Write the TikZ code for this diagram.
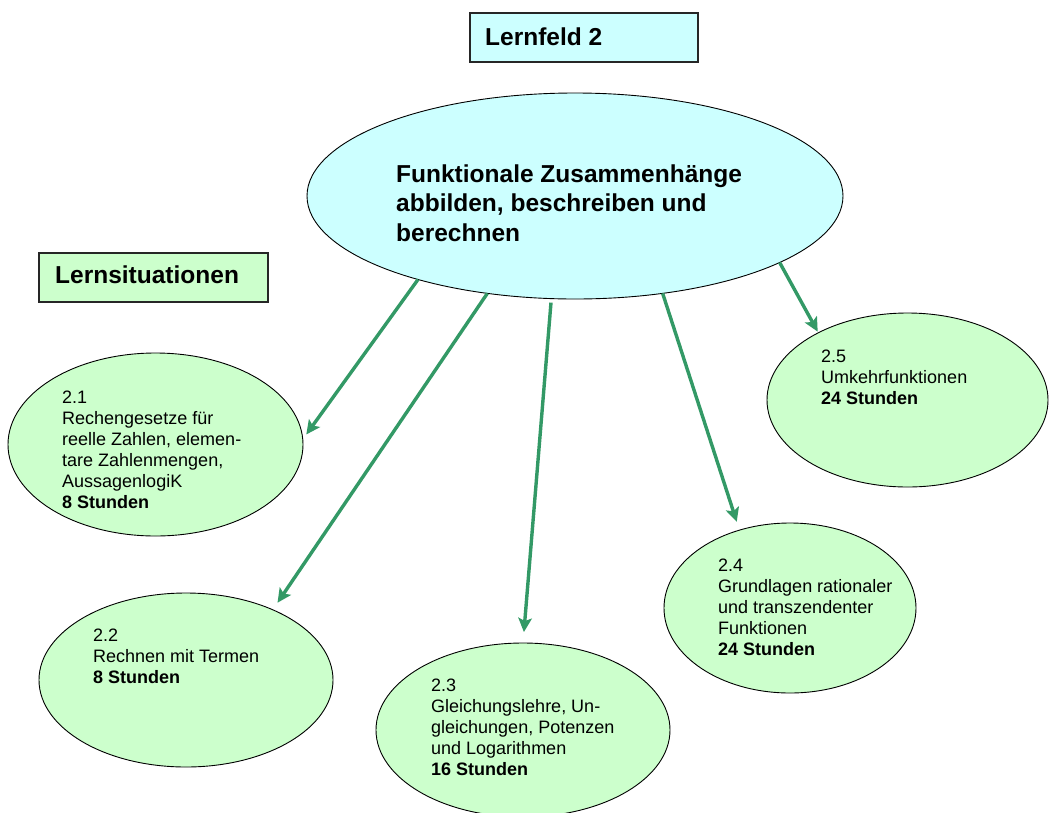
\documentclass[tikz,border=0pt]{standalone}
\usepackage{fontspec}
\setmainfont{Liberation Sans}
\usetikzlibrary{shapes.geometric,arrows.meta}
\definecolor{lcyan}{HTML}{CCFFFF}
\definecolor{lgreen}{HTML}{CCFFCC}
\definecolor{agreen}{HTML}{339966}
\begin{document}
\begin{tikzpicture}[x=1pt,y=-1pt,
  ell/.style={ellipse,draw=black,line width=0.9pt,inner sep=0pt,outer sep=0pt},
  sit/.style={ell,fill=lgreen},
  titlebox/.style={draw=black!85,line width=1.2pt,inner sep=0pt,outer sep=0pt,anchor=north west},
  small/.style={inner sep=0pt,anchor=base west,font={\fontsize{18}{21}\selectfont}},
  big/.style={inner sep=0pt,anchor=base west,font={\fontsize{24.5}{29.5}\selectfont\bfseries}},
  conn/.style={draw=agreen,line width=3.4pt,-{Stealth[length=14pt,width=13.5pt,inset=3pt]}}]
\useasboundingbox (0,0) rectangle (1049,812);

% title boxes
\node[titlebox,fill=lcyan,minimum width=228,minimum height=49] (lf) at (470,13) {};
\node[big] (lft) at (485,45) {Lernfeld 2};
\node[titlebox,fill=lgreen,minimum width=229,minimum height=49] (ls) at (39,253) {};
\node[big] (lst) at (55,283) {Lernsituationen};

% main ellipse
\node[ell,fill=lcyan,minimum width=536,minimum height=206] (main) at (575,196) {};
\node[big] (mt) at (396,182) {\begin{tabular}[t]{@{}l@{}}Funktionale Zusammenhänge\\abbilden, beschreiben und\\berechnen\end{tabular}};

% situation ellipses
\node[sit,minimum width=295,minimum height=183] (e21) at (155.5,444.5) {};
\node[sit,minimum width=294,minimum height=174] (e22) at (186,680) {};
\node[sit,minimum width=294,minimum height=174] (e23) at (523,730) {};
\node[sit,minimum width=252,minimum height=170] (e24) at (790,608) {};
\node[sit,minimum width=281,minimum height=174] (e25) at (907.5,400) {};

\node[small] (t21) at (62,403) {\begin{tabular}[t]{@{}l@{}}2.1\\Rechengesetze für\\reelle Zahlen, elemen-\\tare Zahlenmengen,\\AussagenlogiK\\\textbf{8 Stunden}\end{tabular}};
\node[small] (t22) at (93,641) {\begin{tabular}[t]{@{}l@{}}2.2\\Rechnen mit Termen\\\textbf{8 Stunden}\end{tabular}};
\node[small] (t23) at (431,691) {\begin{tabular}[t]{@{}l@{}}2.3\\Gleichungslehre, Un-\\gleichungen, Potenzen\\und Logarithmen\\\textbf{16 Stunden}\end{tabular}};
\node[small] (t24) at (718,571) {\begin{tabular}[t]{@{}l@{}}2.4\\Grundlagen rationaler\\und transzendenter\\Funktionen\\\textbf{24 Stunden}\end{tabular}};
\node[small] (t25) at (821,362) {\begin{tabular}[t]{@{}l@{}}2.5\\Umkehrfunktionen\\\textbf{24 Stunden}\end{tabular}};

% connectors
\draw[conn,shorten >=6pt] (main.208.9) -- (e21.2.5);
\draw[conn,shorten >=8.5pt] (main.228.8) -- (e22.39.8);
\draw[conn,shorten <=4pt,shorten >=11pt] (main.257.9) -- (e23.90);
\draw[conn,shorten >=8.8pt] (main.312.9) -- (e24.123);
\draw[conn,shorten >=1.3pt] (main.342.5) -- (e25.143.4);
\end{tikzpicture}
\end{document}
